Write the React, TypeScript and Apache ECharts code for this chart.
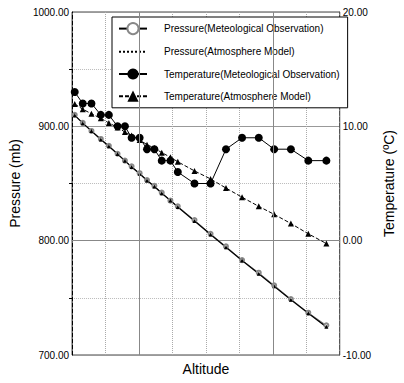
import React, { useEffect, useRef } from "react";
import * as echarts from "echarts";

const FONT = "'Liberation Sans', Arial, Helvetica, sans-serif";

const altitudes = [820, 880, 945, 1015, 1075, 1140, 1195, 1245, 1305, 1360, 1415, 1470, 1535, 1590, 1715, 1835, 1950, 2070, 2195, 2310, 2435, 2565, 2700];
const pressureObs = [910, 903, 896, 889, 883, 876, 870, 865, 859, 853, 848, 842, 835, 830, 818, 806, 795, 783, 772, 761, 749, 737, 726];
const pressureModel = [909.6, 902.8, 896.0, 888.5, 882.5, 875.8, 869.8, 864.5, 858.5, 852.6, 847.4, 841.5, 835.1, 829.4, 817.3, 805.4, 794.2, 782.6, 771.1, 760.2, 748.3, 736.6, 724.6];
const tempObs = [13, 12, 12, 11, 11, 10, 10, 9, 9, 8, 8, 7, 7, 6, 5, 5, 8, 9, 9, 8, 8, 7, 7];
const tempModel = [11.95, 11.5, 11.1, 10.7, 10.3, 9.9, 9.5, 9.2, 8.8, 8.4, 8.1, 7.7, 7.3, 6.9, 6.1, 5.4, 4.6, 3.8, 3.0, 2.3, 1.5, 0.6, -0.25];
const seriesNames = [
  "Pressure(Meteological Observation)",
  "Pressure(Atmosphere Model)",
  "Temperature(Meteological Observation)",
  "Temperature(Atmosphere Model)",
];
const majorAltitudeLines = [1300, 2300];

const pairs = (ys: number[]) => altitudes.map((a, i) => [a, ys[i]]);

export default function App() {
  const ref = useRef<HTMLDivElement>(null);
  useEffect(() => {
    const chart = echarts.init(ref.current!, null, { renderer: "svg" });
    chart.setOption({
      animation: false,
      backgroundColor: "#fff",
      textStyle: { fontFamily: FONT, color: "#000" },
      grid: { left: 54, right: 37, top: 12, bottom: 28, show: true, borderColor: "#444", borderWidth: 1 },
      legend: {
        left: 112,
        top: 17,
        orient: "vertical",
        backgroundColor: "#fff",
        borderColor: "#000",
        borderWidth: 1,
        padding: [5, 8, 6, 6],
        itemWidth: 28,
        itemHeight: 14,
        itemGap: 11,
        textStyle: { fontSize: 10, color: "#000", fontFamily: FONT, padding: [0, 0, 0, 12] },
        data: [
          { name: seriesNames[0], lineStyle: { color: "#000" }, itemStyle: { borderColor: "#888" } },
          { name: seriesNames[1], itemStyle: { opacity: 0 }, lineStyle: { type: "dotted", color: "#000" } },
          { name: seriesNames[2] },
          { name: seriesNames[3] },
        ],
      },
      xAxis: {
        type: "value",
        min: 800,
        max: 2800,
        interval: 250,
        name: "Altitude",
        nameLocation: "middle",
        nameGap: 7,
        nameTextStyle: { fontSize: 14, color: "#000", fontFamily: FONT, verticalAlign: "top" },
        axisLabel: { show: false },
        axisTick: { show: false },
        axisLine: { show: true, lineStyle: { color: "#888" } },
        splitLine: { show: true, lineStyle: { color: "#aaa", type: "dotted" } },
      },
      yAxis: [
        {
          type: "value",
          min: 700,
          max: 1000,
          interval: 100,
          name: "Pressure (mb)",
          nameLocation: "middle",
          nameGap: 30,
          nameTextStyle: { fontSize: 14, color: "#000", fontFamily: FONT },
          axisLabel: { fontSize: 10, color: "#000", margin: 3, formatter: (v: number) => v.toFixed(2) },
          axisLine: { show: true, lineStyle: { color: "#000", type: "dashed" } },
          axisTick: { show: false },
          splitLine: { show: true, lineStyle: { color: "#999", width: 1 } },
          minorTick: { show: true, splitNumber: 2, length: 3, lineStyle: { color: "#000" } },
          minorSplitLine: { show: true, lineStyle: { color: "#bbb", type: "dotted" } },
        },
        {
          type: "value",
          min: -10,
          max: 20,
          interval: 10,
          position: "right",
          name: "Temperature (ºC)",
          nameLocation: "middle",
          nameGap: 19,
          nameTextStyle: { fontSize: 14, color: "#000", fontFamily: FONT },
          axisLabel: { fontSize: 10, color: "#000", margin: 3, formatter: (v: number) => v.toFixed(2) },
          axisLine: { show: true, lineStyle: { color: "#555", type: "dashed" } },
          axisTick: { show: false },
          splitLine: { show: false },
        },
      ],
      series: [
        {
          name: seriesNames[0],
          type: "line",
          yAxisIndex: 0,
          data: pairs(pressureObs),
          symbol: "emptyCircle",
          symbolSize: 4,
          lineStyle: { color: "#888", width: 1 },
          itemStyle: { color: "#888", borderColor: "#888" },
          markLine: {
            silent: true,
            symbol: ["none", "none"],
            label: { show: false },
            lineStyle: { color: "#888", type: "solid", width: 1 },
            data: majorAltitudeLines.map((x) => ({ xAxis: x })),
          },
        },
        {
          name: seriesNames[1],
          type: "line",
          yAxisIndex: 0,
          data: pairs(pressureModel),
          symbol: "triangle",
          symbolSize: 4,
          lineStyle: { color: "#000", width: 1.3 },
          itemStyle: { color: "#000" },
        },
        {
          name: seriesNames[2],
          type: "line",
          yAxisIndex: 1,
          data: pairs(tempObs),
          symbol: "circle",
          symbolSize: 8,
          lineStyle: { color: "#000", width: 1 },
          itemStyle: { color: "#000" },
        },
        {
          name: seriesNames[3],
          type: "line",
          yAxisIndex: 1,
          data: pairs(tempModel),
          symbol: "triangle",
          symbolSize: 6,
          lineStyle: { color: "#000", width: 1, type: [4, 2] },
          itemStyle: { color: "#000" },
        },
      ],
    });
    return () => chart.dispose();
  }, []);
  return <div ref={ref} style={{ position: "absolute", left: 0, top: 0, width: 404, height: 383 }} />;
}
